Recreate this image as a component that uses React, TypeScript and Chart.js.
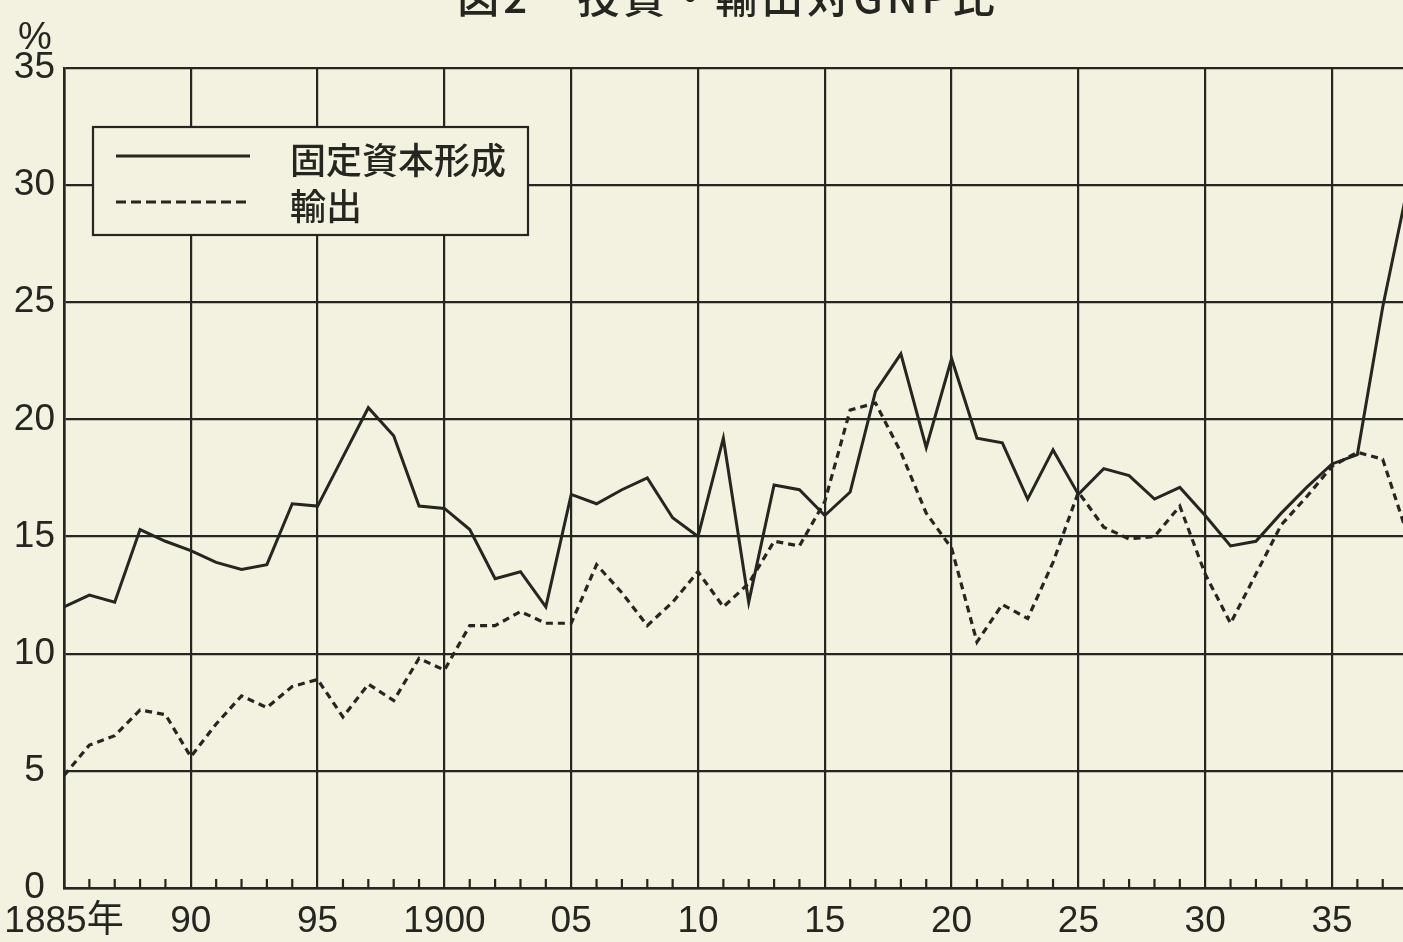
import React, { useEffect, useRef } from 'react';
import { Chart, registerables } from 'chart.js';

Chart.register(...registerables);

const years = [
  1885, 1886, 1887, 1888, 1889, 1890, 1891, 1892, 1893, 1894,
  1895, 1896, 1897, 1898, 1899, 1900, 1901, 1902, 1903, 1904,
  1905, 1906, 1907, 1908, 1909, 1910, 1911, 1912, 1913, 1914,
  1915, 1916, 1917, 1918, 1919, 1920, 1921, 1922, 1923, 1924,
  1925, 1926, 1927, 1928, 1929, 1930, 1931, 1932, 1933, 1934,
  1935, 1936, 1937, 1938,
];

const fixedCapitalFormation = [
  12.0, 12.5, 12.2, 15.3, 14.8, 14.4, 13.9, 13.6, 13.8, 16.4,
  16.3, 18.4, 20.5, 19.3, 16.3, 16.2, 15.3, 13.2, 13.5, 12.0,
  16.8, 16.4, 17.0, 17.5, 15.8, 15.0, 19.2, 12.2, 17.2, 17.0,
  15.9, 16.9, 21.2, 22.8, 18.8, 22.6, 19.2, 19.0, 16.6, 18.7,
  16.8, 17.9, 17.6, 16.6, 17.1, 15.9, 14.6, 14.8, 16.0, 17.1,
  18.1, 18.5, 24.8, 30.0,
];

const exportsShare = [
  4.8, 6.1, 6.5, 7.6, 7.4, 5.6, 7.0, 8.2, 7.7, 8.6,
  8.9, 7.3, 8.7, 8.0, 9.8, 9.3, 11.2, 11.2, 11.8, 11.3,
  11.3, 13.8, 12.6, 11.2, 12.2, 13.5, 12.0, 13.0, 14.8, 14.6,
  16.5, 20.4, 20.7, 18.6, 16.0, 14.5, 10.5, 12.1, 11.5, 13.9,
  16.9, 15.4, 14.9, 15.0, 16.3, 13.4, 11.3, 13.4, 15.5, 16.7,
  18.0, 18.6, 18.3, 15.0,
];

const seriesNames = ['固定資本形成', '輸出'];
const xTickYears = [1885, 1890, 1895, 1900, 1905, 1910, 1915, 1920, 1925, 1930, 1935];
const xTickLabels = ['1885年', '90', '95', '1900', '05', '10', '15', '20', '25', '30', '35'];
const yTickValues = [0, 5, 10, 15, 20, 25, 30, 35];
const titleText = '図2　投資・輸出対GNP比';
const unitText = '%';

const BG = '#f3f1df';
const INK = '#262621';
const LATIN = "'Liberation Sans', 'Noto Sans CJK JP', sans-serif";
const CJK = "'Noto Sans CJK JP', sans-serif";

const decorPlugin = {
  id: 'decor',
  afterDraw(chart: any) {
    const { ctx, chartArea, scales } = chart;
    const xs = scales.x;
    const ys = scales.y;
    ctx.save();

    // minor year ticks along the bottom axis (inside the plot)
    const yBase = ys.getPixelForValue(0);
    ctx.strokeStyle = INK;
    ctx.lineWidth = 2.2;
    ctx.setLineDash([]);
    years.forEach((yr) => {
      if (yr >= xs.max || xTickYears.includes(yr)) return;
      const px = xs.getPixelForValue(yr);
      ctx.beginPath();
      ctx.moveTo(px, yBase);
      ctx.lineTo(px, yBase - 9);
      ctx.stroke();
    });

    // legend box
    const lx = chartArea.left + 29;
    const ly = chartArea.top + 59;
    const lw = 435;
    const lh = 108;
    ctx.fillStyle = BG;
    ctx.fillRect(lx, ly, lw, lh);
    ctx.lineWidth = 2.2;
    ctx.strokeStyle = INK;
    ctx.strokeRect(lx, ly, lw, lh);

    const rows = [ly + 31, ly + 77];
    ctx.lineWidth = 3;
    ctx.beginPath();
    ctx.moveTo(lx + 23, rows[0] - 2);
    ctx.lineTo(lx + 157, rows[0] - 2);
    ctx.stroke();
    ctx.setLineDash([10, 5]);
    ctx.beginPath();
    ctx.moveTo(lx + 23, rows[1] - 2);
    ctx.lineTo(lx + 157, rows[1] - 2);
    ctx.stroke();
    ctx.setLineDash([]);

    ctx.fillStyle = INK;
    ctx.font = `500 36px ${CJK}`;
    ctx.textAlign = 'left';
    ctx.textBaseline = 'middle';
    ctx.fillText(seriesNames[0], lx + 197, rows[0] + 2);
    ctx.fillText(seriesNames[1], lx + 197, rows[1] + 2);

    // unit label above the y axis
    ctx.font = `38px ${LATIN}`;
    ctx.textAlign = 'center';
    ctx.textBaseline = 'alphabetic';
    ctx.fillText(unitText, 35, chartArea.top - 19);

    // title (cut off at the top of the page)
    ctx.font = `500 42px ${CJK}`;
    ctx.textAlign = 'center';
    ctx.textBaseline = 'alphabetic';
    (ctx as any).letterSpacing = '4px';
    ctx.fillText(titleText, 728, 13);
    (ctx as any).letterSpacing = '0px';

    ctx.restore();
  },
};

export default function App() {
  const canvasRef = useRef<HTMLCanvasElement | null>(null);

  useEffect(() => {
    document.body.style.margin = '0';
    document.body.style.background = BG;
    const canvas = canvasRef.current;
    if (!canvas) return;

    const chart = new Chart(canvas, {
      type: 'line',
      data: {
        datasets: [
          {
            label: seriesNames[0],
            data: years.map((yr, i) => ({ x: yr, y: fixedCapitalFormation[i] })),
            borderColor: INK,
            borderWidth: 3,
            pointRadius: 0,
            tension: 0,
            fill: false,
          },
          {
            label: seriesNames[1],
            data: years.map((yr, i) => ({ x: yr, y: exportsShare[i] })),
            borderColor: INK,
            borderWidth: 3.2,
            borderDash: [7, 5],
            pointRadius: 0,
            tension: 0,
            fill: false,
          },
        ],
      },
      options: {
        animation: false,
        responsive: true,
        maintainAspectRatio: false,
        layout: { padding: { top: 68, left: 0, right: 0, bottom: 0 } },
        plugins: {
          legend: { display: false },
          title: { display: false },
          tooltip: { enabled: false },
        },
        scales: {
          x: {
            type: 'linear',
            min: 1885,
            max: 1937.8,
            afterBuildTicks: (scale: any) => {
              scale.ticks = xTickYears.map((v) => ({ value: v }));
            },
            afterFit: (scale: any) => {
              scale.height = 54;
              scale.paddingLeft = 0;
              scale.paddingRight = 0;
            },
            ticks: {
              autoSkip: false,
              maxRotation: 0,
              padding: 12,
              color: INK,
              font: { family: LATIN, size: 37 },
              callback: (value: any) => {
                const idx = xTickYears.indexOf(Number(value));
                return idx >= 0 ? xTickLabels[idx] : '';
              },
            },
            grid: { color: INK, lineWidth: 2.2, drawTicks: false },
            border: { display: true, color: INK, width: 2.6 },
          },
          y: {
            type: 'linear',
            min: 0,
            max: 35,
            afterBuildTicks: (scale: any) => {
              scale.ticks = yTickValues.map((v) => ({ value: v }));
            },
            afterFit: (scale: any) => {
              scale.width = 64;
            },
            ticks: {
              padding: 9,
              crossAlign: 'center',
              color: INK,
              font: { family: LATIN, size: 37 },
            },
            grid: { color: INK, lineWidth: 2.2, drawTicks: false },
            border: { display: true, color: INK, width: 2.6 },
          },
        },
      },
      plugins: [decorPlugin],
    });

    return () => chart.destroy();
  }, []);

  return (
    <div
      style={{
        position: 'absolute',
        left: 0,
        top: 0,
        width: 1403,
        height: 942,
        background: BG,
        overflow: 'hidden',
      }}
    >
      <canvas ref={canvasRef} style={{ display: 'block' }} />
    </div>
  );
}
